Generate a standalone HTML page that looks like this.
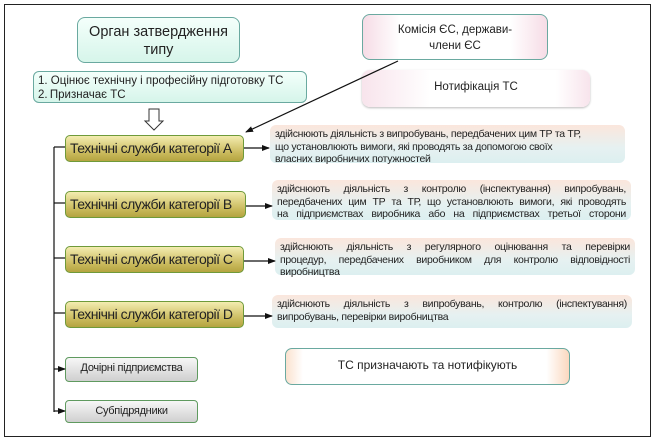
<!DOCTYPE html>
<html><head><meta charset="utf-8"><style>
*{margin:0;padding:0;box-sizing:border-box}
body{width:657px;height:441px;background:#fff;position:relative;overflow:hidden;font-family:"Liberation Sans",sans-serif;color:#222}
.a{position:absolute}
.frame{left:4px;top:4px;width:647px;height:433px;border:1.5px solid #222}
.mint{background:linear-gradient(#f4fffb,#d6f5ea);border:1.5px solid #6aa9a0;border-radius:8px}
.cat{background:linear-gradient(#f3ecb0,#c8b85a 70%,#b4a440);border:1.5px solid #6f9a3a;border-radius:5px;font-size:14px;letter-spacing:-0.5px;line-height:24px;padding-left:4px;color:#222;white-space:nowrap;overflow:hidden}
.gray{background:linear-gradient(#f7f7f7,#cfcfcf);border:1.5px solid #5f9a5f;border-radius:4px;font-size:11px;text-align:center;line-height:20px;letter-spacing:-0.3px}
.desc{background:linear-gradient(#fbe6dc,#e6f1f1 60%,#dceff0);border-radius:6px;font-size:10.5px;line-height:12.5px;padding:3px 5px;letter-spacing:-0.3px}
.desc div{text-align:justify;text-align-last:justify;white-space:nowrap}
.desc div.l{text-align-last:left}
</style></head><body>
<div class="a frame"></div>

<div class="a mint" style="left:77px;top:17px;width:163px;height:46px;font-size:14.5px;text-align:center;line-height:18px;padding-top:5px">Орган затвердження<br>типу</div>
<div class="a mint" style="left:33px;top:71px;width:274px;height:32px;font-size:11.5px;line-height:14px;padding:2px 4px;border-radius:6px">1. Оцінює технічну і професійну підготовку ТС<br>2.&thinsp;Призначає ТС</div>

<div class="a" style="left:362px;top:14px;width:186px;height:46px;border:1.5px solid #6aa9a0;border-radius:8px;background:linear-gradient(90deg,#f6dce6,#fff 20%,#fff 80%,#f6dce6);font-size:11.5px;text-align:center;line-height:16px;padding-top:7px">Комісія ЄС, держави-<br>члени ЄС</div>
<div class="a" style="left:362px;top:70px;width:228px;height:37px;border-radius:8px;background:linear-gradient(90deg,#f8e4ec,#fff 30%,#fff 85%,#f8e4ec);box-shadow:0 1px 2px #bbb;font-size:11.5px;text-align:center;line-height:18px;padding-top:8px">Нотифікація ТС</div>

<div class="a cat" style="left:65px;top:135px;width:179px;height:27px">Технічні служби категорії А</div>
<div class="a cat" style="left:65px;top:191px;width:181px;height:27px">Технічні служби категорії В</div>
<div class="a cat" style="left:65px;top:246px;width:179px;height:27px">Технічні служби категорії С</div>
<div class="a cat" style="left:65px;top:301px;width:179px;height:27px">Технічні служби категорії D</div>
<div class="a gray" style="left:65px;top:357px;width:133px;height:25px">Дочірні підприємства</div>
<div class="a gray" style="left:65px;top:400px;width:133px;height:23px">Субпідрядники</div>

<div class="a desc" style="left:270px;top:125px;width:355px;height:38px"><div class="l">здійснюють діяльність з випробувань, передбачених цим ТР та ТР,</div><div class="l">що установлюють вимоги, які проводять за допомогою своїх</div><div class="l">власних виробничих потужностей</div></div>
<div class="a desc" style="left:272px;top:180px;width:359px;height:40px"><div>здійснюють діяльність з контролю (інспектування) випробувань,</div><div>передбачених цим ТР та ТР, що установлюють вимоги, які проводять</div><div>на підприємствах виробника або на підприємствах третьої сторони</div></div>
<div class="a desc" style="left:275px;top:238px;width:360px;height:37px"><div>здійснюють діяльність з регулярного оцінювання та перевірки</div><div>процедур, передбачених виробником для контролю відповідності</div><div class="l">виробництва</div></div>
<div class="a desc" style="left:272px;top:295px;width:360px;height:33px"><div>здійснюють діяльність з випробувань, контролю (інспектування)</div><div class="l">випробувань, перевірки виробництва</div></div>

<div class="a" style="left:285px;top:348px;width:285px;height:37px;border:1.5px solid #6aa9a0;border-radius:7px;background:linear-gradient(90deg,#fbe2cf,#fff 6%,#fff 92%,#fbd8bf);font-size:12px;text-align:center;line-height:32px">ТС призначають та нотифікують</div>

<svg class="a" style="left:0;top:0" width="657" height="441">
<defs><marker id="m" markerWidth="8" markerHeight="8" refX="7" refY="4" orient="auto" markerUnits="userSpaceOnUse"><path d="M0,1 L8,4 L0,7Z" fill="#111"/></marker></defs>
<g stroke="#111" stroke-width="1.2" fill="none">
<line x1="54" y1="147" x2="54" y2="412"/>
<line x1="54" y1="147" x2="65" y2="147"/>
<line x1="54" y1="203" x2="65" y2="203"/>
<line x1="54" y1="258" x2="65" y2="258"/>
<line x1="54" y1="313" x2="65" y2="313"/>
<line x1="54" y1="369" x2="65" y2="369" marker-end="url(#m)"/>
<line x1="54" y1="411" x2="65" y2="411" marker-end="url(#m)"/>
<line x1="244" y1="148" x2="269" y2="148" marker-end="url(#m)"/>
<line x1="246" y1="206" x2="272" y2="206" marker-end="url(#m)"/>
<line x1="244" y1="261" x2="275" y2="261" marker-end="url(#m)"/>
<line x1="244" y1="316" x2="272" y2="316" marker-end="url(#m)"/>
<line x1="398" y1="61" x2="246" y2="132" marker-end="url(#m)"/>
</g>
<path d="M149,109 H159 V121 H163 L154,130 L145,121 H149Z" fill="#fff" stroke="#333" stroke-width="1"/>
</svg>
</body></html>
